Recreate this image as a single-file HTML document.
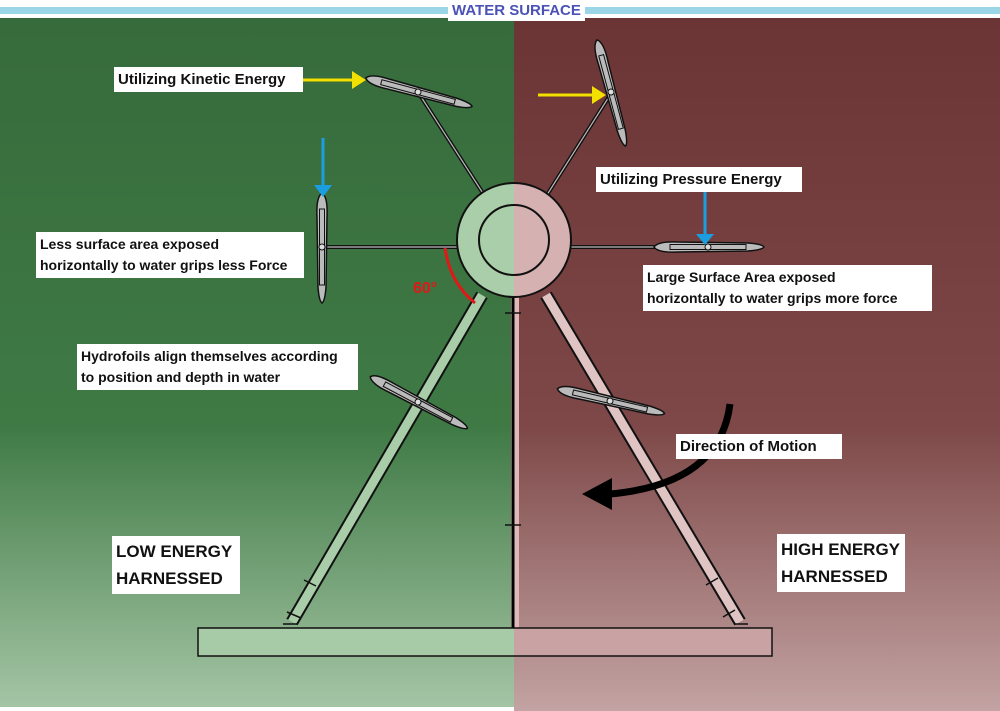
<!DOCTYPE html>
<html><head><style>
body{margin:0;width:1000px;height:711px;overflow:hidden;font-family:"Liberation Sans",sans-serif}
.l{position:absolute;background:#fff;font-weight:bold;font-size:15px;color:#111;padding:2px 4px;line-height:21px;white-space:nowrap}
.s{font-size:14px}
.big{font-size:17px;line-height:27px;padding:2px 4px}
</style></head><body>
<svg width="1000" height="711" style="position:absolute;left:0;top:0">
<defs>
<linearGradient id="g" x1="0" y1="0" x2="0" y2="1"><stop offset="0" stop-color="#366a3b"/><stop offset="0.6" stop-color="#3f7a45"/><stop offset="1" stop-color="#a6c6a6"/></linearGradient>
<linearGradient id="r" x1="0" y1="0" x2="0" y2="1"><stop offset="0" stop-color="#6a3434"/><stop offset="0.6" stop-color="#7e4848"/><stop offset="1" stop-color="#c3a3a3"/></linearGradient>
<g id="foil"><path d="M-54 0Q-50 -6 -30 -5L40 -4Q54 -3 56 0Q54 3 40 4L-30 5Q-50 6 -54 0z" fill="#bbb" stroke="#111" stroke-width="1.5"/><rect x="-38" y="-2.5" width="76" height="5" fill="none" stroke="#111" stroke-width="1"/><circle r="3" fill="#ddd" stroke="#111"/></g>
</defs>
<rect x="0" y="0" width="514" height="711" fill="url(#g)"/>
<rect x="514" y="0" width="486" height="711" fill="url(#r)"/>
<rect x="0" y="0" width="1000" height="18" fill="#fff"/>
<rect x="0" y="7" width="1000" height="7" fill="#9ad6e6"/>
<rect x="0" y="707" width="514" height="4" fill="#fff"/>
<!-- legs -->
<line x1="482" y1="295" x2="292" y2="622" stroke="#111" stroke-width="13"/>
<line x1="482" y1="295" x2="292" y2="622" stroke="#a8cda8" stroke-width="9"/>
<line x1="546" y1="295" x2="740" y2="622" stroke="#111" stroke-width="13"/>
<line x1="546" y1="295" x2="740" y2="622" stroke="#e0c4c4" stroke-width="9"/>
<rect x="511" y="295" width="8" height="333" fill="#e0b8b8"/>
<line x1="513" y1="295" x2="513" y2="628" stroke="#000" stroke-width="3"/>
<path d="M505 313h16M505 525h16M304 580l12 6M287 612l14 6M283 624h14M718 578l-12 7M735 610l-12 7M734 624h14" stroke="#111" stroke-width="1.5"/>
<!-- base -->
<rect x="198" y="628" width="316" height="28" fill="#a6cba6"/>
<rect x="514" y="628" width="258" height="28" fill="#c9a3a3"/>
<rect x="198" y="628" width="574" height="28" fill="none" stroke="#111" stroke-width="1.5"/>
<!-- arms -->
<g stroke="#111" stroke-width="4"><line x1="486" y1="198" x2="418" y2="92"/><line x1="545" y1="198" x2="612" y2="92"/><line x1="320" y1="247" x2="457" y2="247"/><line x1="571" y1="247" x2="706" y2="247"/></g>
<g stroke="#bbb" stroke-width="1.2"><line x1="486" y1="198" x2="418" y2="92"/><line x1="545" y1="198" x2="612" y2="92"/><line x1="320" y1="247" x2="457" y2="247"/><line x1="571" y1="247" x2="706" y2="247"/></g>
<!-- hub -->
<path d="M514 183a57 57 0 0 0 0 114z" fill="#a9cea9"/>
<path d="M514 183a57 57 0 0 1 0 114z" fill="#d5b1b1"/>
<circle cx="514" cy="240" r="57" fill="none" stroke="#111" stroke-width="2"/>
<circle cx="514" cy="240" r="35" fill="none" stroke="#111" stroke-width="2"/>
<!-- foils -->
<use href="#foil" transform="translate(418,92) rotate(15)"/>
<use href="#foil" transform="translate(611,92) rotate(75)"/>
<use href="#foil" transform="translate(322,247) rotate(90)"/>
<use href="#foil" transform="translate(708,247)"/>
<use href="#foil" transform="translate(418,402) rotate(28)"/>
<use href="#foil" transform="translate(610,401) rotate(13)"/>
<!-- arrows -->
<line x1="303" y1="80" x2="352" y2="80" stroke="#f2e000" stroke-width="3"/><path d="M352 71l14 9l-14 9z" fill="#f2e000"/>
<line x1="538" y1="95" x2="592" y2="95" stroke="#f2e000" stroke-width="3"/><path d="M592 86l14 9l-14 9z" fill="#f2e000"/>
<line x1="323" y1="138" x2="323" y2="185" stroke="#1a9ee0" stroke-width="3"/><path d="M314 185h18l-9 12z" fill="#1a9ee0"/>
<line x1="705" y1="192" x2="705" y2="235" stroke="#1a9ee0" stroke-width="3"/><path d="M696 234h18l-9 11z" fill="#1a9ee0"/>
<path d="M445 248q5 35 30 55" fill="none" stroke="#e01818" stroke-width="3"/>
<text x="413" y="293" fill="#e01818" font-weight="bold" font-size="16" font-family="Liberation Sans">60°</text>
<path d="M730 404q-10 80 -120 90" fill="none" stroke="#000" stroke-width="7"/>
<path d="M612 478l-30 16l30 16z" fill="#000"/>
</svg>
<div class="l" style="left:448px;top:0;color:#4a52b8;font-size:15px;line-height:19px;padding:1px 4px">WATER SURFACE</div>
<div class="l" style="left:114px;top:67px;width:181px">Utilizing Kinetic Energy</div>
<div class="l" style="left:596px;top:167px;width:198px">Utilizing Pressure Energy</div>
<div class="l s" style="left:36px;top:232px;width:260px">Less surface area exposed<br>horizontally to water grips less Force</div>
<div class="l s" style="left:643px;top:265px;width:281px">Large Surface Area exposed<br>horizontally to water grips more force</div>
<div class="l s" style="left:77px;top:344px;width:273px">Hydrofoils align themselves according<br>to position and depth in water</div>
<div class="l" style="left:676px;top:434px;width:158px">Direction of Motion</div>
<div class="l big" style="left:112px;top:536px;width:120px">LOW ENERGY<br>HARNESSED</div>
<div class="l big" style="left:777px;top:534px;width:120px">HIGH ENERGY<br>HARNESSED</div>
</body></html>
